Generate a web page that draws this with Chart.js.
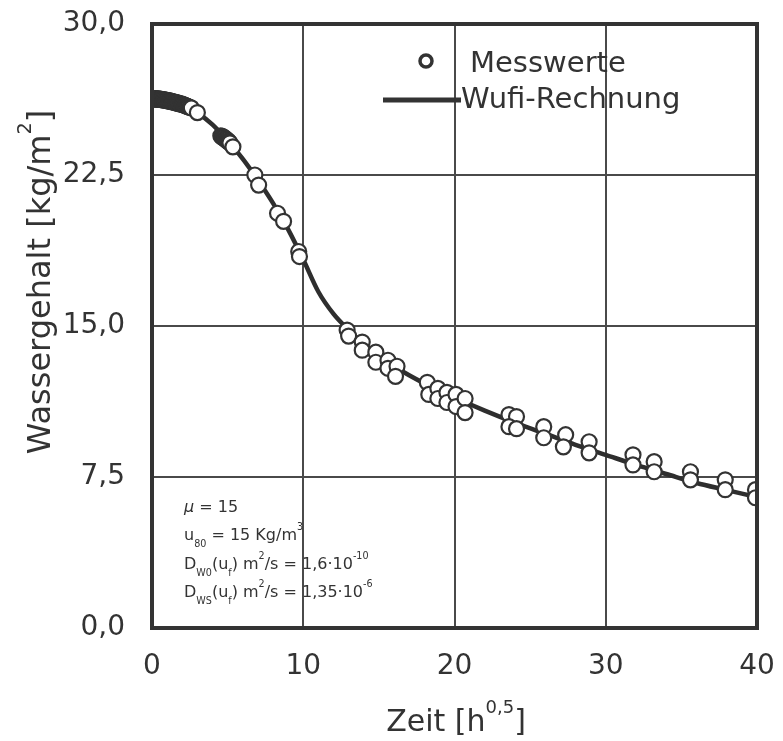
<!DOCTYPE html>
<html>
<head>
<meta charset="utf-8">
<script src="https://cdn.jsdelivr.net/npm/chart.js@4.4.1/dist/chart.umd.min.js"></script>
<style>
  body { margin: 0; background: #fff; }
  #wrap { width: 783px; height: 741px; }
</style>
</head>
<body>
<div id="wrap"><canvas id="chart"></canvas></div>
<script>
// Messwerte (x = Zeit [h^0,5], y = Wassergehalt [kg/m2])
let messX = [0.05, 0.1, 0.15, 0.2, 0.25, 0.3, 0.35, 0.4, 0.45, 0.5, 0.55, 0.6, 0.65, 0.7, 0.75, 0.8, 0.85, 0.9, 0.95, 1.0,
  1.05, 1.1, 1.15, 1.2, 1.25, 1.3, 1.35, 1.4, 1.45, 1.5, 1.55, 1.6, 1.65, 1.7, 1.75, 1.8, 1.85, 1.9, 1.95, 2.0,
  2.05, 2.1, 2.15, 2.2, 2.25, 2.3, 2.35, 2.4, 2.5, 2.6, 3.0,
  4.55, 4.6, 4.65, 4.7, 4.75, 4.8, 4.85, 4.9, 4.95, 5.0, 5.05, 5.1, 5.15, 5.35,
  6.8, 7.05, 8.3, 8.7, 9.7, 9.75,
  12.9, 13.0, 13.9, 13.9, 14.8, 14.8, 15.6, 15.6, 16.2, 16.1,
  18.2, 18.3, 18.9, 18.9, 19.5, 19.5, 20.1, 20.1, 20.7, 20.7,
  23.6, 24.1, 23.6, 24.1,
  25.9, 25.9, 27.35, 27.2, 28.9, 28.9, 31.8, 31.8, 33.2, 33.2, 35.6, 35.6, 37.9, 37.9, 39.9, 39.9];
let messY = [26.3, 26.28, 26.3, 26.27, 26.3, 26.26, 26.29, 26.27, 26.28, 26.25, 26.27, 26.24, 26.26, 26.23, 26.25, 26.22, 26.23, 26.2, 26.22, 26.19,
  26.2, 26.17, 26.19, 26.16, 26.17, 26.14, 26.15, 26.12, 26.13, 26.1, 26.11, 26.08, 26.09, 26.06, 26.07, 26.04, 26.05, 26.02, 26.03, 26.0,
  26.0, 25.98, 25.97, 25.95, 25.94, 25.92, 25.91, 25.89, 25.86, 25.83, 25.6,
  24.45, 24.4, 24.42, 24.36, 24.37, 24.3, 24.31, 24.24, 24.25, 24.18, 24.18, 24.12, 24.1, 23.9,
  22.5, 22.0, 20.6, 20.2, 18.7, 18.45,
  14.8, 14.5, 14.2, 13.8, 13.7, 13.2, 13.3, 12.9, 13.0, 12.5,
  12.2, 11.6, 11.9, 11.4, 11.7, 11.2, 11.6, 11.0, 11.4, 10.7,
  10.6, 10.5, 10.0, 9.9,
  10.0, 9.45, 9.6, 9.0, 9.25, 8.7, 8.6, 8.1, 8.26, 7.76, 7.76, 7.36, 7.36, 6.87, 6.87, 6.47];

// Wufi-Rechnung
let wufiX = [0, 1, 2, 3, 4, 5, 6, 7, 8, 9, 10, 11, 12, 13, 14, 15, 16, 17, 18, 20, 22, 24, 26, 28, 30, 32, 34, 36, 38, 40];
let wufiY = [26.3, 26.25, 26.05, 25.6, 25.0, 24.2, 23.3, 22.25, 21.1, 19.8, 18.3, 16.7, 15.6, 14.8, 14.1, 13.5, 13.0, 12.55,
  12.15, 11.45, 10.8, 10.2, 9.65, 9.1, 8.6, 8.1, 7.65, 7.2, 6.85, 6.5];

let xTicks = [0, 10, 20, 30, 40];
let yTicks = [0, 7.5, 15, 22.5, 30];

let legendLabels = ["Messwerte", "Wufi-Rechnung"];
let xTitle = [["Zeit [h", ""], ["0,5", "sup"], ["]", ""]];
let yTitle = [["Wassergehalt [kg/m", ""], ["2", "sup"], ["]", ""]];
let paramLines = [
  [["\u03BC", "it"], [" = 15", ""]],
  [["u", ""], ["80", "sub"], [" = 15 Kg/m", ""], ["3", "sup"]],
  [["D", ""], ["W0", "sub"], ["(u", ""], ["f", "sub"], [") m", ""], ["2", "sup"], ["/s = 1,6\u00B710", ""], ["-10", "sup"]],
  [["D", ""], ["WS", "sub"], ["(u", ""], ["f", "sub"], [") m", ""], ["2", "sup"], ["/s = 1,35\u00B710", ""], ["-6", "sup"]]
];

const ink = "#333333";
const family = "'DejaVu Sans', Verdana, sans-serif";

// draws text with sub/superscripts, returns width
function richText(ctx, parts, x, y, size, draw) {
  let cx = x;
  parts.forEach(([t, mode]) => {
    let s = size, dy = 0, style = "";
    if (mode === "sup") { s = size * 0.6; dy = -size * 0.6; }
    if (mode === "sub") { s = size * 0.6; dy = size * 0.42; }
    if (mode === "it") style = "italic ";
    ctx.font = style + s + "px " + family;
    if (draw) ctx.fillText(t, cx, y + dy);
    cx += ctx.measureText(t).width;
  });
  return cx - x;
}

const extras = {
  id: "extras",
  afterDatasetsDraw(chart) {
    const { ctx, chartArea: a } = chart;
    ctx.save();
    // frame
    ctx.strokeStyle = ink;
    ctx.lineWidth = 4;
    ctx.strokeRect(a.left, a.top, a.right - a.left, a.bottom - a.top);

    // legend
    ctx.textBaseline = "middle";
    ctx.textAlign = "left";
    ctx.beginPath();
    ctx.arc(426, 61, 6, 0, Math.PI * 2);
    ctx.fillStyle = "#fff";
    ctx.fill();
    ctx.lineWidth = 3.5;
    ctx.stroke();
    ctx.beginPath();
    ctx.lineWidth = 5;
    ctx.moveTo(383, 100);
    ctx.lineTo(461, 100);
    ctx.stroke();
    ctx.fillStyle = ink;
    ctx.font = "29px " + family;
    ctx.fillText(legendLabels[0], 470, 64);
    ctx.fillText(legendLabels[1], 461, 100);

    // parameters
    ctx.textBaseline = "alphabetic";
    let base = [512, 540, 569, 597];
    paramLines.forEach((line, i) => richText(ctx, line, 184, base[i], 16, true));
    ctx.restore();
  },
  afterDraw(chart) {
    const { ctx } = chart;
    ctx.save();
    ctx.fillStyle = ink;
    ctx.textAlign = "left";
    ctx.textBaseline = "alphabetic";
    let w = richText(ctx, xTitle, 0, 0, 30, false);
    richText(ctx, xTitle, 456 - w / 2, 731, 30, true);
    ctx.translate(50, 282);
    ctx.rotate(-Math.PI / 2);
    w = richText(ctx, yTitle, 0, 0, 32, false);
    richText(ctx, yTitle, -w / 2, 0, 32, true);
    ctx.restore();
  }
};

new Chart(document.getElementById("chart"), {
  type: "scatter",
  data: {
    datasets: [
      {
        label: legendLabels[0],
        data: messX.map((x, i) => ({ x: x, y: messY[i] })),
        pointRadius: 7.5,
        pointHoverRadius: 7.5,
        pointBackgroundColor: "#ffffff",
        pointBorderColor: ink,
        pointBorderWidth: 2.2,
        showLine: false,
        clip: 0,
        order: 0
      },
      {
        type: "line",
        label: legendLabels[1],
        data: wufiX.map((x, i) => ({ x: x, y: wufiY[i] })),
        borderColor: "#2e2e2e",
        borderWidth: 4.5,
        pointRadius: 0,
        cubicInterpolationMode: "monotone",
        fill: false,
        clip: 0,
        order: 1
      }
    ]
  },
  options: {
    responsive: true,
    maintainAspectRatio: false,
    animation: false,
    layout: { padding: { top: 24, right: 26, left: 0, bottom: 0 } },
    plugins: { legend: { display: false }, tooltip: { enabled: false } },
    scales: {
      x: {
        type: "linear",
        min: 0,
        max: 40,
        afterBuildTicks: s => { s.ticks = xTicks.map(v => ({ value: v })); },
        afterFit: s => { s.height = 113; s.paddingLeft = 0; s.paddingRight = 0; },
        grid: { color: "#4a4a4a", lineWidth: 2, drawTicks: false },
        border: { display: false },
        ticks: {
          padding: 22,
          color: ink,
          font: { size: 28, family: family },
          maxRotation: 0
        }
      },
      y: {
        min: 0,
        max: 30,
        afterBuildTicks: s => { s.ticks = yTicks.map(v => ({ value: v })); },
        afterFit: s => { s.width = 152; s.paddingTop = 0; s.paddingBottom = 0; },
        grid: { color: "#4a4a4a", lineWidth: 2, drawTicks: false },
        border: { display: false },
        ticks: {
          padding: 27,
          color: ink,
          font: { size: 28, family: family },
          callback: v => v.toFixed(1).replace(".", ",")
        }
      }
    }
  },
  plugins: [extras]
});
</script>
</body>
</html>
